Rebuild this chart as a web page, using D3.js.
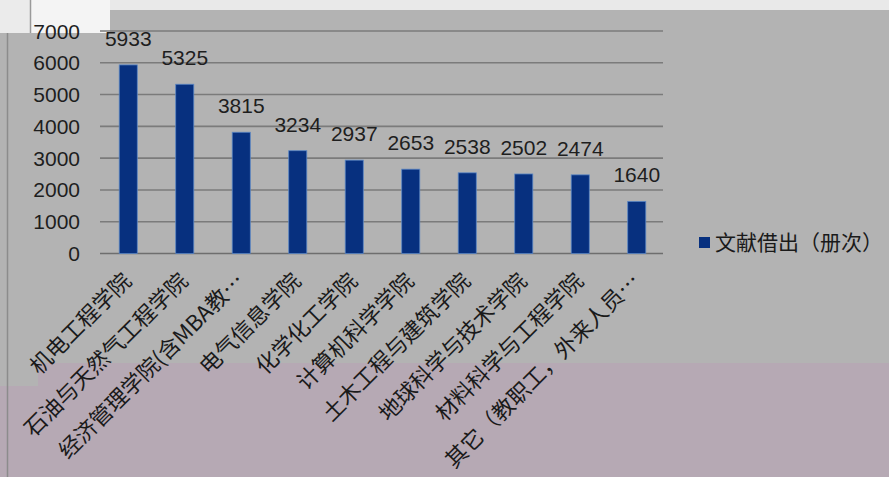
<!DOCTYPE html>
<html>
<head>
<meta charset="utf-8">
<script src="https://cdn.jsdelivr.net/npm/d3@7"></script>
<style>
  html, body { margin: 0; padding: 0; background: #b3b3b3; overflow: hidden; }
  svg { display: block; }
</style>
</head>
<body>
<div id="chart-area"></div>
<script>
// data
var categories = ["机电工程学院", "石油与天然气工程学院", "经济管理学院(含MBA教…", "电气信息学院",
  "化学化工学院", "计算机科学学院", "土木工程与建筑学院", "地球科学与技术学院",
  "材料科学与工程学院", "其它（教职工，外来人员…"];
var loans = [5933, 5325, 3815, 3234, 2937, 2653, 2538, 2502, 2474, 1640];
var yTicks = [0, 1000, 2000, 3000, 4000, 5000, 6000, 7000];
var seriesName = "文献借出（册次）";

var W = 889, H = 477;
var numFont = "'Liberation Sans', Arial, sans-serif";
var cjkFont = "'Noto Sans CJK SC', 'Noto Sans', sans-serif";

var svg = d3.select("#chart-area")
  .append("svg")
  .attr("width", W)
  .attr("height", H);

// screenshot background pieces
svg.append("rect").attr("width", W).attr("height", H).attr("fill", "#b3b3b3");
svg.append("rect").attr("x", 38).attr("y", 363).attr("width", W - 38).attr("height", H - 363).attr("fill", "#b6a9b4");
svg.append("rect").attr("x", 0).attr("y", 386).attr("width", 38).attr("height", H - 386).attr("fill", "#b6a9b4");
svg.append("rect").attr("width", W).attr("height", 10).attr("fill", "#e9e9e9");
svg.append("rect").attr("x", 0).attr("y", 0).attr("width", 30).attr("height", 33).attr("fill", "#ebebeb");
svg.append("rect").attr("x", 30).attr("y", 0).attr("width", 80).attr("height", 33).attr("fill", "#f4f4f4");
svg.append("line").attr("x1", 30.5).attr("x2", 30.5).attr("y1", 0).attr("y2", 33)
  .attr("stroke", "#9a9a9a").attr("stroke-width", 1.5);
svg.append("line").attr("x1", 7.5).attr("x2", 7.5).attr("y1", 33).attr("y2", H)
  .attr("stroke", "#8c8c8c").attr("stroke-width", 1.5);

// scales
var x = d3.scaleBand()
  .domain(categories)
  .range([100, 665])
  .paddingInner(0.68)
  .paddingOuter(0.34);

var y = d3.scaleLinear()
  .domain([0, 7000])
  .range([253.5, 31]);

// gridlines
svg.append("g")
  .selectAll("line")
  .data(yTicks)
  .enter()
  .append("line")
  .attr("x1", 100)
  .attr("x2", 663)
  .attr("y1", d => y(d))
  .attr("y2", d => y(d))
  .attr("stroke", d => d === 0 ? "#6e6e6e" : "#7b7b7b")
  .attr("stroke-width", 1.6);

// y tick labels
svg.append("g")
  .selectAll("text")
  .data(yTicks)
  .enter()
  .append("text")
  .attr("x", 80)
  .attr("y", d => y(d))
  .attr("dy", "0.36em")
  .attr("text-anchor", "end")
  .attr("font-family", numFont)
  .attr("font-size", 21)
  .attr("fill", "#1e1e1e")
  .text(d => d);

// bars
svg.append("g")
  .selectAll("rect")
  .data(loans)
  .enter()
  .append("rect")
  .attr("x", (d, i) => x(categories[i]))
  .attr("y", d => y(d))
  .attr("width", x.bandwidth())
  .attr("height", d => y(0) - y(d))
  .attr("fill", "#07307f")
  .attr("stroke", "#5a86c4")
  .attr("stroke-width", 0.8);

// value labels
svg.append("g")
  .selectAll("text")
  .data(loans)
  .enter()
  .append("text")
  .attr("x", (d, i) => x(categories[i]) + x.bandwidth() / 2)
  .attr("y", d => y(d) - 19)
  .attr("text-anchor", "middle")
  .attr("font-family", numFont)
  .attr("font-size", 21)
  .attr("fill", "#1e1e1e")
  .text(d => d);

// category labels, rotated
svg.append("g")
  .selectAll("text")
  .data(categories)
  .enter()
  .append("text")
  .attr("transform", d => "translate(" + (x(d) + x.bandwidth() / 2 - 1) + ",277) rotate(-45)")
  .attr("dy", "0.35em")
  .attr("text-anchor", "end")
  .attr("font-family", cjkFont)
  .attr("font-size", 22)
  .attr("fill", "#1a1a1a")
  .text(d => d);

// legend
var legend = svg.append("g").attr("transform", "translate(699,243)");
legend.append("rect")
  .attr("x", 0).attr("y", -6)
  .attr("width", 11).attr("height", 11)
  .attr("fill", "#07307f");
legend.append("text")
  .attr("x", 16)
  .attr("y", 0)
  .attr("dy", "0.35em")
  .attr("font-family", cjkFont)
  .attr("font-size", 21)
  .attr("fill", "#1a1a1a")
  .text(seriesName);
</script>
</body>
</html>
